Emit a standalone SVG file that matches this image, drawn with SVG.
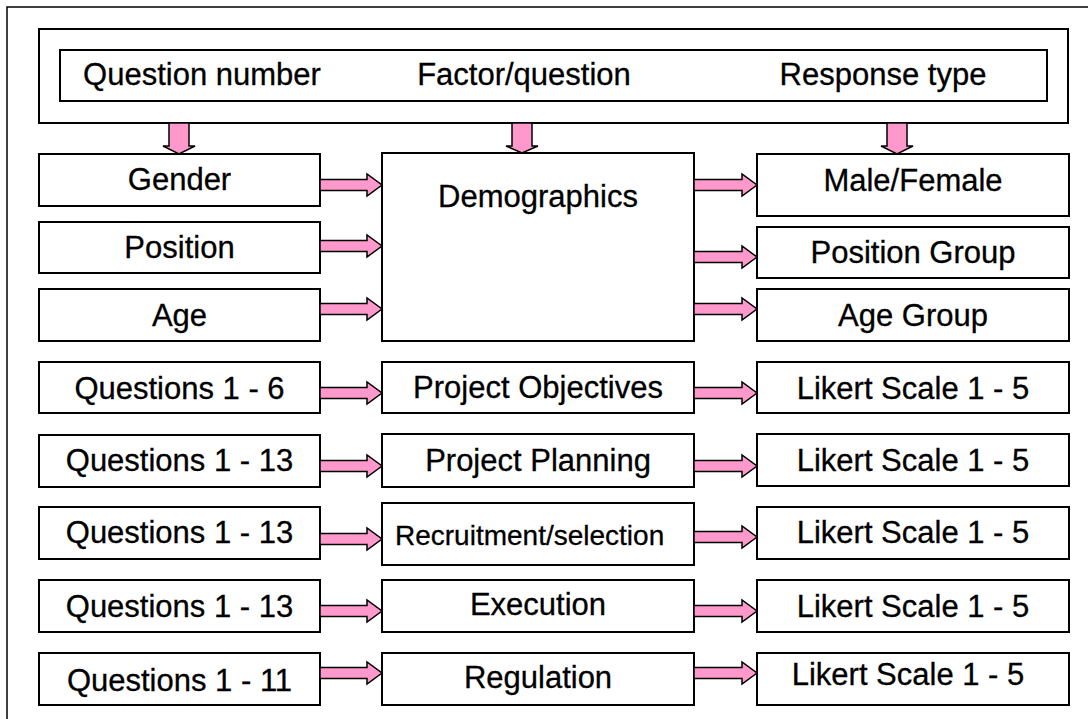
<svg xmlns="http://www.w3.org/2000/svg" width="1088" height="719" viewBox="0 0 1088 719">
<style>
.box{fill:#fff;stroke:#000;stroke-width:2}
.frame{fill:none;stroke:#000;stroke-width:1.5}
.arr{fill:#FF99CC;stroke:#000;stroke-width:1.5;stroke-linejoin:miter}
text{font-family:"Liberation Sans",Arial,sans-serif;font-size:31px;fill:#000;stroke:#000;stroke-width:0.3}
.c{text-anchor:middle}
</style>
<rect x="0" y="0" width="1088" height="719" fill="#fff"/>
<rect class="frame" x="7" y="7" width="1100" height="730"/>
<g id="header">
<rect class="box" x="39" y="29" width="1029" height="94"/>
<rect class="box" x="60" y="50" width="987" height="51"/>
<text class="c" x="202" y="85">Question number</text>
<text class="c" x="524" y="85">Factor/question</text>
<text class="c" x="883" y="85">Response type</text>
</g>
<g id="gender"><rect class="box" x="39" y="154" width="281" height="52"/><text class="c" x="179.5" y="190">Gender</text></g>
<g id="position"><rect class="box" x="39" y="222" width="281" height="51"/><text class="c" x="179.5" y="258">Position</text></g>
<g id="age"><rect class="box" x="39" y="289" width="281" height="52"/><text class="c" x="179.5" y="326">Age</text></g>
<g id="demographics"><rect class="box" x="382" y="153" width="312" height="188"/><text class="c" x="538" y="207">Demographics</text></g>
<g id="malefemale"><rect class="box" x="757" y="154" width="312" height="62"/><text class="c" x="913" y="191">Male/Female</text></g>
<g id="positiongroup"><rect class="box" x="757" y="227" width="312" height="51"/><text class="c" x="913" y="263">Position Group</text></g>
<g id="agegroup"><rect class="box" x="757" y="289" width="312" height="52"/><text class="c" x="913" y="326">Age Group</text></g>

<g id="q1"><rect class="box" x="39" y="362" width="281" height="51"/><text class="c" x="179.5" y="399">Questions 1 - 6</text></g>
<g id="objectives"><rect class="box" x="382" y="362" width="312" height="51"/><text class="c" x="538" y="398">Project Objectives</text></g>
<g id="likert1"><rect class="box" x="757" y="362" width="312" height="51"/><text class="c" x="913" y="399">Likert Scale 1 - 5</text></g>

<g id="q2"><rect class="box" x="39" y="435" width="281" height="52"/><text class="c" x="179.5" y="471">Questions 1 - 13</text></g>
<g id="planning"><rect class="box" x="382" y="434" width="312" height="53"/><text class="c" x="538" y="471">Project Planning</text></g>
<g id="likert2"><rect class="box" x="757" y="434" width="312" height="52"/><text class="c" x="913" y="471">Likert Scale 1 - 5</text></g>

<g id="q3"><rect class="box" x="39" y="507" width="281" height="52"/><text class="c" x="179.5" y="543">Questions 1 - 13</text></g>
<g id="recruitment"><rect class="box" x="382" y="503" width="312" height="62"/><text x="395" y="545" style="font-size:28px">Recruitment/selection</text></g>
<g id="likert3"><rect class="box" x="757" y="507" width="312" height="52"/><text class="c" x="913" y="543">Likert Scale 1 - 5</text></g>

<g id="q4"><rect class="box" x="39" y="580" width="281" height="52"/><text class="c" x="179.5" y="617">Questions 1 - 13</text></g>
<g id="execution"><rect class="box" x="382" y="580" width="312" height="52"/><text class="c" x="538" y="615">Execution</text></g>
<g id="likert4"><rect class="box" x="757" y="580" width="312" height="52"/><text class="c" x="913" y="617">Likert Scale 1 - 5</text></g>

<g id="q5"><rect class="box" x="39" y="653" width="281" height="52"/><text class="c" x="179.5" y="691">Questions 1 - 11</text></g>
<g id="regulation"><rect class="box" x="382" y="653" width="312" height="52"/><text class="c" x="538" y="688">Regulation</text></g>
<g id="likert5"><rect class="box" x="757" y="653" width="312" height="52"/><text class="c" x="908" y="685">Likert Scale 1 - 5</text></g>

<g id="connectors">
<polygon class="arr" points="169,123 189,123 189,146 195,146 179,154 163,146 169,146"/>
<polygon class="arr" points="512,123 532,123 532,146 538,146 522,153 506,146 512,146"/>
<polygon class="arr" points="887,123 907,123 907,146 913,146 897,154 881,146 887,146"/>

<polygon class="arr" points="320,179.5 367,179.5 367,174 382,185 367,196 367,190.5 320,190.5"/>
<polygon class="arr" points="320,240.5 367,240.5 367,235 382,246 367,257 367,251.5 320,251.5"/>
<polygon class="arr" points="320,303.5 367,303.5 367,298 382,309 367,320 367,314.5 320,314.5"/>
<polygon class="arr" points="320,387.5 367,387.5 367,382 382,393 367,404 367,398.5 320,398.5"/>
<polygon class="arr" points="320,460.5 367,460.5 367,455 382,466 367,477 367,471.5 320,471.5"/>
<polygon class="arr" points="320,533.5 367,533.5 367,528 382,539 367,550 367,544.5 320,544.5"/>
<polygon class="arr" points="320,605.5 367,605.5 367,600 382,611 367,622 367,616.5 320,616.5"/>
<polygon class="arr" points="320,667.5 367,667.5 367,662 382,673 367,684 367,678.5 320,678.5"/>

<polygon class="arr" points="694,179.5 742,179.5 742,174 757,185 742,196 742,190.5 694,190.5"/>
<polygon class="arr" points="694,251.5 742,251.5 742,246 757,257 742,268 742,262.5 694,262.5"/>
<polygon class="arr" points="694,303.5 742,303.5 742,298 757,309 742,320 742,314.5 694,314.5"/>
<polygon class="arr" points="694,387.5 742,387.5 742,382 757,393 742,404 742,398.5 694,398.5"/>
<polygon class="arr" points="694,460.5 742,460.5 742,455 757,466 742,477 742,471.5 694,471.5"/>
<polygon class="arr" points="694,531.5 742,531.5 742,526 757,537 742,548 742,542.5 694,542.5"/>
<polygon class="arr" points="694,605.5 742,605.5 742,600 757,611 742,622 742,616.5 694,616.5"/>
<polygon class="arr" points="694,667.5 742,667.5 742,662 757,673 742,684 742,678.5 694,678.5"/>
</g>
</svg>
